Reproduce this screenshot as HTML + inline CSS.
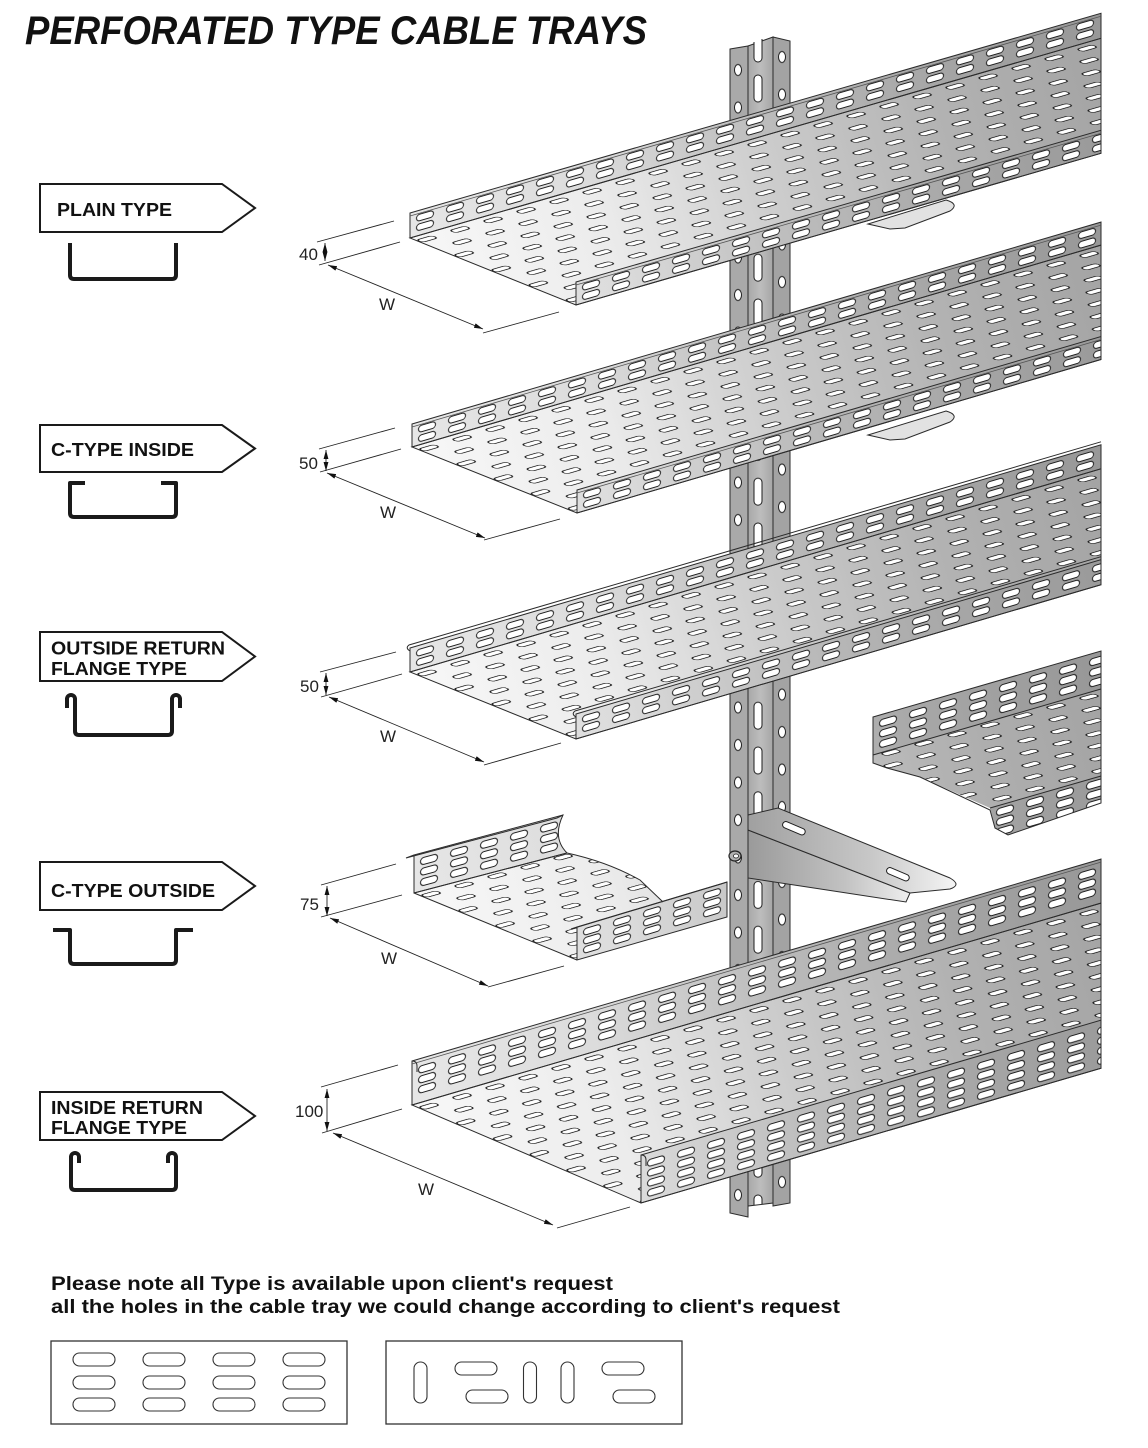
<!DOCTYPE html>
<html><head><meta charset="utf-8">
<style>html,body{margin:0;padding:0;background:#fff}svg{display:block}</style>
</head><body>
<svg width="1148" height="1448" viewBox="0 0 1148 1448" xmlns="http://www.w3.org/2000/svg">
<style>
.s{fill:#fff;stroke:#1e1e1e;stroke-width:1}
.sf{fill:#fff;stroke:#1a1a1a;stroke-width:1.2}
.o{fill:none;stroke:#2b2b2b;stroke-width:1}
.d{stroke:#222;stroke-width:0.9;fill:none}
.dt{font-family:"Liberation Sans",Arial,sans-serif;font-size:17px;fill:#222}
.lb{font-family:"Liberation Sans",Arial,sans-serif;font-weight:bold;font-size:18px;fill:#111}
.pr{fill:none;stroke:#1a1a1a;stroke-width:4;stroke-linejoin:round;stroke-linecap:butt}
</style>
<defs>
<linearGradient id="gFb">
<stop offset="0" stop-color="#f7f7f7"/><stop offset="0.25" stop-color="#ececec"/><stop offset="0.5" stop-color="#cccccc"/><stop offset="0.75" stop-color="#b2b2b2"/><stop offset="1" stop-color="#a3a3a3"/>
</linearGradient>
<linearGradient id="gWb">
<stop offset="0" stop-color="#e6e6e6"/><stop offset="0.25" stop-color="#dcdcdc"/><stop offset="0.5" stop-color="#bdbdbd"/><stop offset="0.75" stop-color="#a6a6a6"/><stop offset="1" stop-color="#979797"/>
</linearGradient>
<linearGradient id="gF1" href="#gFb" gradientUnits="userSpaceOnUse" x1="410" y1="213" x2="1101" y2="13"/>
<linearGradient id="gW1" href="#gWb" gradientUnits="userSpaceOnUse" x1="410" y1="213" x2="1101" y2="13"/>
<linearGradient id="gF2" href="#gFb" gradientUnits="userSpaceOnUse" x1="412" y1="424" x2="1101" y2="222"/>
<linearGradient id="gW2" href="#gWb" gradientUnits="userSpaceOnUse" x1="412" y1="424" x2="1101" y2="222"/>
<linearGradient id="gF3" href="#gFb" gradientUnits="userSpaceOnUse" x1="410" y1="648" x2="1101" y2="445"/>
<linearGradient id="gW3" href="#gWb" gradientUnits="userSpaceOnUse" x1="410" y1="648" x2="1101" y2="445"/>
<linearGradient id="gF4" href="#gFb" gradientUnits="userSpaceOnUse" x1="414" y1="855" x2="1101" y2="663"/>
<linearGradient id="gW4" href="#gWb" gradientUnits="userSpaceOnUse" x1="414" y1="855" x2="1101" y2="663"/>
<linearGradient id="gF5" href="#gFb" gradientUnits="userSpaceOnUse" x1="412" y1="1061" x2="1101" y2="859"/>
<linearGradient id="gW5" href="#gWb" gradientUnits="userSpaceOnUse" x1="412" y1="1061" x2="1101" y2="859"/>
<linearGradient id="gBr" gradientUnits="userSpaceOnUse" x1="748" y1="0" x2="955" y2="0">
<stop offset="0" stop-color="#a0a0a0"/><stop offset="0.6" stop-color="#c8c8c8"/><stop offset="1" stop-color="#f4f4f4"/>
</linearGradient>
<linearGradient id="gBw" gradientUnits="userSpaceOnUse" x1="748" y1="0" x2="910" y2="0">
<stop offset="0" stop-color="#9a9a9a"/><stop offset="0.6" stop-color="#c2c2c2"/><stop offset="1" stop-color="#eeeeee"/>
</linearGradient>
<linearGradient id="gWeb" gradientUnits="userSpaceOnUse" x1="748" y1="0" x2="773" y2="0">
<stop offset="0" stop-color="#a8a8a8"/><stop offset="0.5" stop-color="#bdbdbd"/><stop offset="1" stop-color="#a6a6a6"/>
</linearGradient>

<!-- floor patterns -->
<pattern id="pf1" patternUnits="userSpaceOnUse" width="33" height="40" patternTransform="matrix(1,-0.289,0.927,0.374,410,238)"><rect x="0.8" y="6" width="15.5" height="6.5" rx="3.2" class="sf"/><rect x="17.2" y="26" width="15.5" height="6.5" rx="3.2" class="sf"/></pattern>
<pattern id="pf2" patternUnits="userSpaceOnUse" width="33" height="40" patternTransform="matrix(1,-0.293,0.928,0.371,412,447)"><rect x="0.8" y="6" width="15.5" height="6.5" rx="3.2" class="sf"/><rect x="17.2" y="26" width="15.5" height="6.5" rx="3.2" class="sf"/></pattern>
<pattern id="pf3" patternUnits="userSpaceOnUse" width="33" height="40" patternTransform="matrix(1,-0.294,0.927,0.374,410,672)"><rect x="0.8" y="6" width="15.5" height="6.5" rx="3.2" class="sf"/><rect x="17.2" y="26" width="15.5" height="6.5" rx="3.2" class="sf"/></pattern>
<pattern id="pf4" patternUnits="userSpaceOnUse" width="33" height="40" patternTransform="matrix(1,-0.28,0.925,0.38,414,893)"><rect x="0.8" y="6" width="15.5" height="6.5" rx="3.2" class="sf"/><rect x="17.2" y="26" width="15.5" height="6.5" rx="3.2" class="sf"/></pattern>
<pattern id="pf5" patternUnits="userSpaceOnUse" width="33" height="40" patternTransform="matrix(1,-0.293,0.919,0.393,412,1105)"><rect x="0.8" y="6" width="15.5" height="6.5" rx="3.2" class="sf"/><rect x="17.2" y="26" width="15.5" height="6.5" rx="3.2" class="sf"/></pattern>

<!-- wall patterns -->
<pattern id="pb1" patternUnits="userSpaceOnUse" width="30" height="25" patternTransform="matrix(1,-0.289,0,1,410,213)"><rect x="6.5" y="4" width="17" height="6.5" rx="3.2" class="s"/><rect x="6.5" y="13.5" width="17" height="6.5" rx="3.2" class="s"/></pattern>
<pattern id="pn1" patternUnits="userSpaceOnUse" width="30" height="25" patternTransform="matrix(1,-0.289,0,1,576,282)"><rect x="6.5" y="4" width="17" height="6.5" rx="3.2" class="s"/><rect x="6.5" y="13.5" width="17" height="6.5" rx="3.2" class="s"/></pattern>
<pattern id="pb2" patternUnits="userSpaceOnUse" width="30" height="25" patternTransform="matrix(1,-0.293,0,1,412,424)"><rect x="6.5" y="4" width="17" height="6.5" rx="3.2" class="s"/><rect x="6.5" y="13.5" width="17" height="6.5" rx="3.2" class="s"/></pattern>
<pattern id="pn2" patternUnits="userSpaceOnUse" width="30" height="25" patternTransform="matrix(1,-0.293,0,1,577,490)"><rect x="6.5" y="4" width="17" height="6.5" rx="3.2" class="s"/><rect x="6.5" y="13.5" width="17" height="6.5" rx="3.2" class="s"/></pattern>
<pattern id="pb3" patternUnits="userSpaceOnUse" width="30" height="25" patternTransform="matrix(1,-0.294,0,1,410,648)"><rect x="6.5" y="4" width="17" height="6.5" rx="3.2" class="s"/><rect x="6.5" y="13.5" width="17" height="6.5" rx="3.2" class="s"/></pattern>
<pattern id="pn3" patternUnits="userSpaceOnUse" width="30" height="25" patternTransform="matrix(1,-0.294,0,1,576,714)"><rect x="6.5" y="4" width="17" height="6.5" rx="3.2" class="s"/><rect x="6.5" y="13.5" width="17" height="6.5" rx="3.2" class="s"/></pattern>
<pattern id="pb4" patternUnits="userSpaceOnUse" width="30" height="40" patternTransform="matrix(1,-0.27,0,1,414,855)"><rect x="6.5" y="5" width="17" height="7" rx="3.5" class="s"/><rect x="6.5" y="15.5" width="17" height="7" rx="3.5" class="s"/><rect x="6.5" y="26" width="17" height="7" rx="3.5" class="s"/></pattern>
<pattern id="pn4" patternUnits="userSpaceOnUse" width="30" height="40" patternTransform="matrix(1,-0.3,0,1,577,927)"><rect x="6.5" y="4" width="17" height="6.5" rx="3.2" class="s"/><rect x="6.5" y="13" width="17" height="6.5" rx="3.2" class="s"/><rect x="6.5" y="22" width="17" height="6.5" rx="3.2" class="s"/></pattern>
<pattern id="pb4r" patternUnits="userSpaceOnUse" width="30" height="40" patternTransform="matrix(1,-0.289,0,1,873,717)"><rect x="6.5" y="5" width="17" height="7" rx="3.5" class="s"/><rect x="6.5" y="15.5" width="17" height="7" rx="3.5" class="s"/><rect x="6.5" y="26" width="17" height="7" rx="3.5" class="s"/></pattern>
<pattern id="pn4r" patternUnits="userSpaceOnUse" width="30" height="40" patternTransform="matrix(1,-0.289,0,1,990,808)"><rect x="6.5" y="3" width="17" height="7" rx="3.5" class="s"/><rect x="6.5" y="13" width="17" height="7" rx="3.5" class="s"/><rect x="6.5" y="23" width="17" height="7" rx="3.5" class="s"/></pattern>
<pattern id="pb5" patternUnits="userSpaceOnUse" width="30" height="50" patternTransform="matrix(1,-0.293,0,1,412,1061)"><rect x="6.5" y="7.5" width="17" height="7" rx="3.5" class="s"/><rect x="6.5" y="17.5" width="17" height="7" rx="3.5" class="s"/><rect x="6.5" y="27.5" width="17" height="7" rx="3.5" class="s"/></pattern>
<pattern id="pn5" patternUnits="userSpaceOnUse" width="30" height="50" patternTransform="matrix(1,-0.293,0,1,641,1155)"><rect x="6.5" y="7" width="17" height="6.8" rx="3.4" class="s"/><rect x="6.5" y="17" width="17" height="6.8" rx="3.4" class="s"/><rect x="6.5" y="27" width="17" height="6.8" rx="3.4" class="s"/><rect x="6.5" y="37" width="17" height="6.8" rx="3.4" class="s"/></pattern>

<!-- post holes -->
<pattern id="phl" patternUnits="userSpaceOnUse" x="730" y="51.25" width="18" height="37.5"><ellipse cx="8" cy="18.75" rx="3.5" ry="5.5" class="s"/></pattern>
<pattern id="phr" patternUnits="userSpaceOnUse" x="773" y="38.25" width="17" height="37.5"><ellipse cx="9" cy="18.75" rx="3.5" ry="5.5" class="s"/></pattern>
<pattern id="phw" patternUnits="userSpaceOnUse" x="748" y="73" width="25" height="44.8"><rect x="6" y="2" width="8" height="27" rx="4" class="s"/></pattern>

<marker id="ar" viewBox="0 0 10 10" refX="10" refY="5" markerUnits="userSpaceOnUse" markerWidth="9" markerHeight="9" orient="auto-start-reverse"><path d="M0,2.3 L10,5 L0,7.7 z" fill="#111"/></marker>
</defs>

<rect width="1148" height="1448" fill="#fff"/>

<!-- Title -->
<text x="25" y="44" font-family="Liberation Sans, Arial, sans-serif" font-weight="bold" font-style="italic" font-size="40" fill="#111" textLength="622" lengthAdjust="spacingAndGlyphs">PERFORATED TYPE CABLE TRAYS</text>

<!-- Post -->
<g>
<path d="M730,49 L748,46 L748,1217 L730,1213 Z" fill="#a9a9a9"/>
<path d="M730,49 L748,46 L748,1217 L730,1213 Z" fill="url(#phl)"/>
<path d="M748,46 L773,37 L773,1203 L748,1206 Z" fill="url(#gWeb)"/>
<path d="M748,46 L773,37 L773,1203 L748,1206 Z" fill="url(#phw)"/>
<path d="M773,37 L790,41 L790,1203 L773,1206 Z" fill="#a3a3a3"/>
<path d="M773,37 L790,41 L790,1203 L773,1206 Z" fill="url(#phr)"/>
<path d="M730,49 L748,46 L748,1217 L730,1213 Z" class="o"/>
<path d="M748,46 L773,37 L773,1203 L748,1206 Z" class="o"/>
<path d="M773,37 L790,41 L790,1203 L773,1206 Z" class="o"/>
<path d="M754,42 V58 A4,4 0 0 0 762,58 V39" fill="#fff" stroke="#1e1e1e" stroke-width="1"/>
<ellipse cx="735" cy="856" rx="6" ry="5" fill="#b0b0b0" stroke="#222" stroke-width="1.2"/>
<ellipse cx="736" cy="856" rx="2.5" ry="2" fill="#fff" stroke="#222" stroke-width="0.8"/>
</g>

<!-- bracket bits under trays 1 and 2 -->
<path d="M868,224 L946,200 Q960,204 950,211 L905,228 L890,229 Z" fill="#e2e2e2" stroke="#2b2b2b" stroke-width="1"/>
<path d="M868,435 L946,411 Q960,415 950,422 L905,439 L890,440 Z" fill="#e2e2e2" stroke="#2b2b2b" stroke-width="1"/>

<!-- Tray 1 -->
<g>
<polygon points="410,238 1101,38.3 1101,153.3 576,305" fill="url(#gF1)"/>
<polygon points="410,238 1101,38.3 1101,153.3 576,305" fill="url(#pf1)"/>
<polygon points="410,213 1101,13.3 1101,38.3 410,238" fill="url(#gW1)"/>
<polygon points="410,213 1101,13.3 1101,38.3 410,238" fill="url(#pb1)"/>
<polygon points="576,282 1101,130.3 1101,153.3 576,305" fill="url(#gW1)"/>
<polygon points="576,282 1101,130.3 1101,153.3 576,305" fill="url(#pn1)"/>
<polygon points="410,238 1101,38.3 1101,153.3 576,305" class="o"/>
<polygon points="410,213 1101,13.3 1101,38.3 410,238" class="o"/>
<polygon points="576,282 1101,130.3 1101,153.3 576,305" class="o"/>
<line x1="410" y1="216" x2="1101" y2="16.3" stroke="#555" stroke-width="0.8"/>
<line x1="576" y1="285" x2="1101" y2="133.3" stroke="#555" stroke-width="0.8"/>
</g>

<!-- Tray 2 -->
<g>
<polygon points="412,447 1101,245.1 1101,359.5 577,513" fill="url(#gF2)"/>
<polygon points="412,447 1101,245.1 1101,359.5 577,513" fill="url(#pf2)"/>
<polygon points="412,424 1101,222.1 1101,245.1 412,447" fill="url(#gW2)"/>
<polygon points="412,424 1101,222.1 1101,245.1 412,447" fill="url(#pb2)"/>
<polygon points="577,490 1101,336.5 1101,359.5 577,513" fill="url(#gW2)"/>
<polygon points="577,490 1101,336.5 1101,359.5 577,513" fill="url(#pn2)"/>
<polygon points="412,447 1101,245.1 1101,359.5 577,513" class="o"/>
<polygon points="412,424 1101,222.1 1101,245.1 412,447" class="o"/>
<polygon points="577,490 1101,336.5 1101,359.5 577,513" class="o"/>
<line x1="412" y1="427" x2="1101" y2="225.1" stroke="#555" stroke-width="0.8"/>
<line x1="577" y1="493" x2="1101" y2="339.5" stroke="#555" stroke-width="0.8"/>
</g>

<!-- Tray 3 -->
<g>
<polygon points="410,672 1101,468.8 1101,584.7 576,739" fill="url(#gF3)"/>
<polygon points="410,672 1101,468.8 1101,584.7 576,739" fill="url(#pf3)"/>
<polygon points="410,648 1101,444.8 1101,468.8 410,672" fill="url(#gW3)"/>
<polygon points="410,648 1101,444.8 1101,468.8 410,672" fill="url(#pb3)"/>
<polygon points="576,714 1101,559.7 1101,584.7 576,739" fill="url(#gW3)"/>
<polygon points="576,714 1101,559.7 1101,584.7 576,739" fill="url(#pn3)"/>
<polygon points="410,672 1101,468.8 1101,584.7 576,739" class="o"/>
<polygon points="410,648 1101,444.8 1101,468.8 410,672" class="o"/>
<polygon points="576,714 1101,559.7 1101,584.7 576,739" class="o"/>
<path d="M410,651 Q405,648 409,645 L1101,441.8" class="o"/>
<path d="M576,717 Q571,714 575,711 L1101,556.7" class="o"/>
</g>

<!-- Tray 4 right piece -->
<g>
<path d="M873,755 L1101,689 L1101,776 L990,808 L920,777 L887,768 L873,763 Z" fill="url(#gF4)"/>
<path d="M873,755 L1101,689 L1101,776 L990,808 L920,777 L887,768 L873,763 Z" fill="url(#pf4)"/>
<path d="M873,717 L1101,651 L1101,689 L873,755 Z" fill="url(#gW4)"/>
<path d="M873,717 L1101,651 L1101,689 L873,755 Z" fill="url(#pb4r)"/>
<path d="M990,808 L1101,776 L1101,803 L1008,835 L995,828 Z" fill="url(#gW4)"/>
<path d="M990,808 L1101,776 L1101,803 L1008,835 L995,828 Z" fill="url(#pn4r)"/>
<path d="M873,717 L1101,651 L1101,803 L1008,835 L995,828 L990,810 L920,777 L887,768 L873,763 Z" class="o"/>
<line x1="873" y1="755" x2="1101" y2="689" class="o"/>
<line x1="990" y1="808" x2="1101" y2="776" class="o"/>
</g>

<!-- Bracket -->
<g>
<path d="M748,830 L910,893 L906,902 L748,878 Z" fill="url(#gBw)" stroke="#2b2b2b" stroke-width="1"/>
<path d="M748,815 L778,808 L950,878 Q962,885 950,889 L910,893 L748,830 Z" fill="url(#gBr)" stroke="#2b2b2b" stroke-width="1"/>
<rect x="782" y="825" width="24" height="6.5" rx="3.2" transform="rotate(23 794 828)" class="s"/>
<rect x="886" y="871" width="24" height="6.5" rx="3.2" transform="rotate(23 898 874)" class="s"/>
</g>

<!-- Tray 4 left piece -->
<g>
<path d="M414,893 L567,853 C590,858 615,866 640,880 L663,902 L663,935 L577,960 Z" fill="url(#gF4)"/>
<path d="M414,893 L567,853 C590,858 615,866 640,880 L663,902 L663,935 L577,960 Z" fill="url(#pf4)"/>
<path d="M414,855 L563,815 Q552,838 567,853 L414,893 Z" fill="url(#gW4)"/>
<path d="M414,855 L563,815 Q552,838 567,853 L414,893 Z" fill="url(#pb4)"/>
<path d="M577,927 L727,882 L727,917 L577,960 Z" fill="url(#gW4)"/>
<path d="M577,927 L727,882 L727,917 L577,960 Z" fill="url(#pn4)"/>
<path d="M414,893 L567,853 C590,858 615,866 640,880 L663,902" class="o"/>
<line x1="414" y1="893" x2="577" y2="960" class="o"/>
<path d="M414,855 L563,815 Q552,838 567,853 L414,893 Z" class="o"/>
<path d="M577,927 L727,882 L727,917 L577,960 Z" class="o"/>
<path d="M414,855 L406,858 L557,818 L563,815" class="o"/>
<path d="M577,927 L571,929 L721,884 L727,882" class="o"/>
</g>

<!-- Tray 5 -->
<g>
<polygon points="412,1105 1101,903.1 1101,1068.2 641,1203" fill="url(#gF5)"/>
<polygon points="412,1105 1101,903.1 1101,1068.2 641,1203" fill="url(#pf5)"/>
<polygon points="412,1061 1101,859.1 1101,903.1 412,1105" fill="url(#gW5)"/>
<polygon points="412,1061 1101,859.1 1101,903.1 412,1105" fill="url(#pb5)"/>
<polygon points="641,1155 1101,1020.2 1101,1068.2 641,1203" fill="url(#gW5)"/>
<polygon points="641,1155 1101,1020.2 1101,1068.2 641,1203" fill="url(#pn5)"/>
<polygon points="412,1105 1101,903.1 1101,1068.2 641,1203" class="o"/>
<polygon points="412,1061 1101,859.1 1101,903.1 412,1105" class="o"/>
<polygon points="641,1155 1101,1020.2 1101,1068.2 641,1203" class="o"/>
<path d="M412,1061 Q417,1061 417,1066 L417,1072" class="o"/>
<path d="M641,1155 Q646,1155 646,1160 L646,1166" class="o"/>
<line x1="412" y1="1064" x2="1101" y2="862.1" stroke="#555" stroke-width="0.8"/>
</g>

<!-- Dimensions -->
<g class="d">
<line x1="317" y1="242" x2="394" y2="221"/>
<line x1="319" y1="265" x2="400" y2="242"/>
<line x1="325" y1="243" x2="325" y2="261" marker-start="url(#ar)" marker-end="url(#ar)"/>
<line x1="328" y1="265" x2="483" y2="329" marker-start="url(#ar)" marker-end="url(#ar)"/>
<line x1="483" y1="333" x2="559" y2="312"/>

<line x1="319" y1="449" x2="395" y2="428"/>
<line x1="320" y1="472" x2="401" y2="449"/>
<line x1="326" y1="450" x2="326" y2="471" marker-start="url(#ar)" marker-end="url(#ar)"/>
<line x1="327" y1="473" x2="485" y2="538" marker-start="url(#ar)" marker-end="url(#ar)"/>
<line x1="484" y1="540" x2="560" y2="519"/>

<line x1="320" y1="672" x2="396" y2="652"/>
<line x1="321" y1="697" x2="402" y2="674"/>
<line x1="326" y1="673" x2="326" y2="695" marker-start="url(#ar)" marker-end="url(#ar)"/>
<line x1="329" y1="697" x2="484" y2="762" marker-start="url(#ar)" marker-end="url(#ar)"/>
<line x1="484" y1="765" x2="561" y2="743"/>

<line x1="321" y1="885" x2="396" y2="864"/>
<line x1="321" y1="917" x2="402" y2="895"/>
<line x1="327" y1="886" x2="327" y2="916" marker-start="url(#ar)" marker-end="url(#ar)"/>
<line x1="330" y1="918" x2="488" y2="986" marker-start="url(#ar)" marker-end="url(#ar)"/>
<line x1="488" y1="987" x2="564" y2="966"/>

<line x1="321" y1="1087" x2="398" y2="1065"/>
<line x1="322" y1="1133" x2="402" y2="1109"/>
<line x1="327" y1="1089" x2="327" y2="1131" marker-start="url(#ar)" marker-end="url(#ar)"/>
<line x1="333" y1="1133" x2="553" y2="1225" marker-start="url(#ar)" marker-end="url(#ar)"/>
<line x1="557" y1="1228" x2="630" y2="1207"/>
</g>
<g class="dt">
<text x="299" y="260">40</text>
<text x="379" y="310">W</text>
<text x="299" y="469">50</text>
<text x="380" y="518">W</text>
<text x="300" y="692">50</text>
<text x="380" y="742">W</text>
<text x="300" y="910">75</text>
<text x="381" y="964">W</text>
<text x="295" y="1117">100</text>
<text x="418" y="1195">W</text>
</g>

<!-- Left labels -->
<g fill="#fff" stroke="#1a1a1a" stroke-width="2">
<polygon points="40,184 222,184 255,208 222,232 40,232"/>
<polygon points="40,425 222,425 255,448.5 222,472 40,472"/>
<polygon points="40,632 222,632 255,656.5 222,681 40,681"/>
<polygon points="40,862 222,862 255,886 222,910 40,910"/>
<polygon points="40,1092 222,1092 255,1116 222,1140 40,1140"/>
</g>
<g class="lb">
<text x="57" y="216" textLength="115" lengthAdjust="spacingAndGlyphs">PLAIN TYPE</text>
<text x="51" y="456" textLength="143" lengthAdjust="spacingAndGlyphs">C-TYPE INSIDE</text>
<text x="51" y="654.5" textLength="174" lengthAdjust="spacingAndGlyphs">OUTSIDE RETURN</text>
<text x="51" y="675" textLength="136" lengthAdjust="spacingAndGlyphs">FLANGE TYPE</text>
<text x="51" y="897" textLength="164" lengthAdjust="spacingAndGlyphs">C-TYPE OUTSIDE</text>
<text x="51" y="1114" textLength="152" lengthAdjust="spacingAndGlyphs">INSIDE RETURN</text>
<text x="51" y="1134" textLength="136" lengthAdjust="spacingAndGlyphs">FLANGE TYPE</text>
</g>

<!-- Profiles -->
<path class="pr" d="M70,243 V275 Q70,279 74,279 H172 Q176,279 176,275 V243"/>
<path class="pr" d="M85,483 H70 V513 Q70,517 74,517 H172 Q176,517 176,513 V483 H161"/>
<path class="pr" d="M67,708 V699 A4,4 0 0 1 75,699 V731 Q75,735 79,735 H168 Q172,735 172,731 V699 A4,4 0 0 1 180,699 V708"/>
<path class="pr" d="M53,930 H70 V960 Q70,964 74,964 H172 Q176,964 176,960 V930 H193"/>
<path class="pr" d="M79,1163 V1157 A4,4 0 0 0 71,1157 V1186 Q71,1190 75,1190 H172 Q176,1190 176,1186 V1157 A4,4 0 0 0 168,1157 V1163"/>

<!-- Bottom notes -->
<g font-family="Liberation Sans, Arial, sans-serif" font-weight="bold" font-size="19" fill="#111">
<text x="51" y="1290" textLength="562" lengthAdjust="spacingAndGlyphs">Please note all Type is available upon client's request</text>
<text x="51" y="1313" textLength="789" lengthAdjust="spacingAndGlyphs">all the holes in the cable tray we could change according to client's request</text>
</g>

<!-- Hole sample boxes -->
<g fill="#fff" stroke="#333" stroke-width="1.3">
<rect x="51" y="1341" width="296" height="83"/>
<rect x="386" y="1341" width="296" height="83"/>
</g>
<g fill="#fff" stroke="#333" stroke-width="1.1">
<rect x="73" y="1353" width="42" height="13" rx="6.5"/><rect x="143" y="1353" width="42" height="13" rx="6.5"/><rect x="213" y="1353" width="42" height="13" rx="6.5"/><rect x="283" y="1353" width="42" height="13" rx="6.5"/>
<rect x="73" y="1376" width="42" height="13" rx="6.5"/><rect x="143" y="1376" width="42" height="13" rx="6.5"/><rect x="213" y="1376" width="42" height="13" rx="6.5"/><rect x="283" y="1376" width="42" height="13" rx="6.5"/>
<rect x="73" y="1398" width="42" height="13" rx="6.5"/><rect x="143" y="1398" width="42" height="13" rx="6.5"/><rect x="213" y="1398" width="42" height="13" rx="6.5"/><rect x="283" y="1398" width="42" height="13" rx="6.5"/>
<rect x="414" y="1362" width="13" height="41" rx="6.5"/>
<rect x="455" y="1362" width="42" height="13" rx="6.5"/>
<rect x="466" y="1390" width="42" height="13" rx="6.5"/>
<rect x="523.5" y="1362" width="13" height="41" rx="6.5"/>
<rect x="561" y="1362" width="13" height="41" rx="6.5"/>
<rect x="602" y="1362" width="42" height="13" rx="6.5"/>
<rect x="613" y="1390" width="42" height="13" rx="6.5"/>
</g>
</svg>
</body></html>
